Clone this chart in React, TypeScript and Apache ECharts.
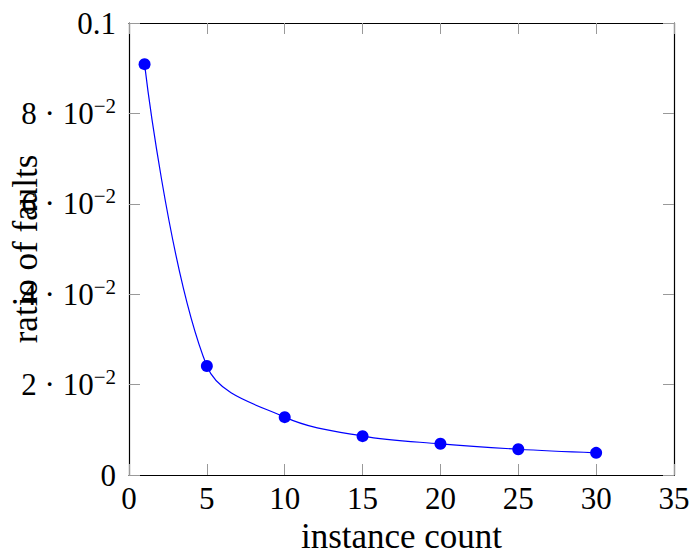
import React, { useEffect, useRef } from "react";
import * as echarts from "echarts";

const instanceCounts = [1, 5, 10, 15, 20, 25, 30];
const faultRatios = [0.0909, 0.0241, 0.0128, 0.0086, 0.0069, 0.0057, 0.0049];
const xTitle = "instance count";
const yTitle = "ratio of faults";

const FONT = "Liberation Serif";

function yLabel(v: number): string {
  const n = Math.round(v * 100);
  if (n === 0) return "0";
  if (n === 10) return "0.1";
  return `{a|${n} · 10}{s|−2}`;
}

export default function App() {
  const ref = useRef<HTMLDivElement>(null);
  useEffect(() => {
    if (!ref.current) return;
    const chart = echarts.init(ref.current, null, { renderer: "svg" });
    const tickStyle = { show: true, inside: true, length: 11, lineStyle: { color: "#999", width: 1 } };
    const lineStyle = { show: true, onZero: false, lineStyle: { color: "#000", width: 1.2 } };
    chart.setOption({
      animation: false,
      grid: { left: 129, top: 23, right: 18, bottom: 82, containLabel: false, outerBoundsMode: "none" },
      xAxis: [
        {
          type: "value", min: 0, max: 35, interval: 5, position: "bottom",
          axisLine: lineStyle, axisTick: tickStyle, splitLine: { show: false },
          axisLabel: { fontFamily: FONT, fontSize: 31, color: "#000", margin: 8 },
          name: xTitle, nameLocation: "middle", nameGap: 44, nameMoveOverlap: false,
          nameTextStyle: { fontFamily: FONT, fontSize: 35, color: "#000" },
        },
        {
          type: "value", min: 0, max: 35, interval: 5, position: "top",
          axisLine: lineStyle, axisTick: tickStyle, splitLine: { show: false },
          axisLabel: { show: false },
        },
      ],
      yAxis: [
        {
          type: "value", min: 0, max: 0.1, interval: 0.02, position: "left",
          axisLine: lineStyle, axisTick: tickStyle, splitLine: { show: false },
          axisLabel: {
            margin: 13, color: "#000", fontFamily: FONT, fontSize: 31,
            formatter: yLabel,
            rich: {
              a: { fontFamily: FONT, fontSize: 31, color: "#000", lineHeight: 36 },
              s: { fontFamily: FONT, fontSize: 21, color: "#000", lineHeight: 21, verticalAlign: "top" },
            },
          },
          name: yTitle, nameLocation: "middle", nameGap: 86, nameMoveOverlap: false,
          nameTextStyle: { fontFamily: FONT, fontSize: 35, color: "#000" },
        },
        {
          type: "value", min: 0, max: 0.1, interval: 0.02, position: "right",
          axisLine: lineStyle, axisTick: tickStyle, splitLine: { show: false },
          axisLabel: { show: false },
        },
      ],
      series: [
        {
          type: "line",
          data: instanceCounts.map((x, i) => [x, faultRatios[i]]),
          smooth: 0.35,
          symbol: "circle",
          symbolSize: 12,
          lineStyle: { color: "#0000ff", width: 1.2 },
          itemStyle: { color: "#0000ff" },
        },
      ],
    });
    return () => chart.dispose();
  }, []);
  return <div ref={ref} style={{ position: "absolute", left: 0, top: 0, width: 692, height: 557 }} />;
}
